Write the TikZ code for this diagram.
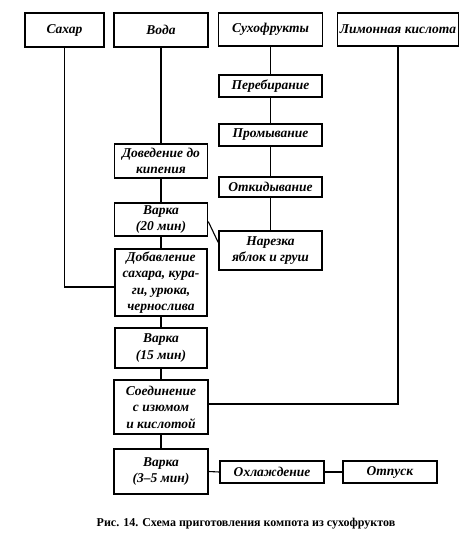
\documentclass[tikz,border=0pt]{standalone}
\usepackage{fontspec}
\setmainfont{Liberation Serif}
\begin{document}
\begin{tikzpicture}[x=1pt,y=-1pt,
  box/.style={draw,line width=1.5pt,rectangle,inner sep=1pt,align=center,
    font=\bfseries\itshape\fontsize{13.5}{16.5}\selectfont},
  link/.style={line width=1.1pt}]
\useasboundingbox (0,0) rectangle (469,552);
\node[box,minimum width=79pt,minimum height=34pt] (sugar) at (64.5,30) {Сахар};
\node[box,minimum width=94pt,minimum height=34pt] (water) at (161,30) {Вода};
\node[box,minimum width=104pt,minimum height=33pt] (dry) at (270.5,29.5) {Сухофрукты};
\node[box,minimum width=121pt,minimum height=33pt] (lemon) at (398,29.5) {Лимонная кислота};
\node[box,minimum width=103pt,minimum height=22pt] (pereb) at (270.5,86) {Перебирание};
\node[box,minimum width=103pt,minimum height=22pt] (promyv) at (270.5,135) {Промывание};
\node[box,minimum width=93pt,minimum height=34pt] (doved) at (161,161) {Доведение до\\кипения};
\node[box,minimum width=103pt,minimum height=20pt] (otkid) at (270.5,187) {Откидывание};
\node[box,minimum width=93pt,minimum height=33pt] (varka20) at (161,219.5) {Варка\\(20 мин)};
\node[box,minimum width=103pt,minimum height=39pt] (narez) at (270.5,250.5) {Нарезка\\яблок и груш};
\node[box,minimum width=92pt,minimum height=67pt] (dobavl) at (161,282.5) {Добавление\\сахара, кура-\\ги, урюка,\\чернослива};
\node[box,minimum width=92pt,minimum height=40pt] (varka15) at (161,348) {Варка\\(15 мин)};
\node[box,minimum width=94pt,minimum height=54pt] (soed) at (161,407) {Соединение\\с изюмом\\и кислотой};
\node[box,minimum width=94pt,minimum height=45pt] (varka35) at (161,471.5) {Варка\\(3--5 мин)};
\node[box,minimum width=104pt,minimum height=22pt] (ohl) at (272,472) {Охлаждение};
\node[box,minimum width=94pt,minimum height=22pt] (otpusk) at (390,472) {Отпуск};
\node[font=\bfseries\fontsize{12}{14}\selectfont] (caption) at (246,524) {Рис. 14. Схема приготовления компота из сухофруктов};
\draw[link] (sugar.south) |- ([yshift=-4.5pt]dobavl.west);
\draw[link] (water.south) -- (doved.north);
\draw[link] (doved.south) -- (varka20.north);
\draw[link] (varka20.south) -- (dobavl.north);
\draw[link] (dobavl.south) -- (varka15.north);
\draw[link] (varka15.south) -- (soed.north);
\draw[link] (soed.south) -- (varka35.north);
\draw[link] (varka35.east) -- (ohl.west);
\draw[link] (ohl.east) -- (otpusk.west);
\draw[link] (dry.south) -- (pereb.north);
\draw[link] (pereb.south) -- (promyv.north);
\draw[link] (promyv.south) -- (otkid.north);
\draw[link] (otkid.south) -- (narez.north);
\draw[link] ([yshift=-2pt]varka20.east) -- ([yshift=8pt]narez.west);
\draw[link] (lemon.south) |- ([yshift=3pt]soed.east);
\end{tikzpicture}
\end{document}
